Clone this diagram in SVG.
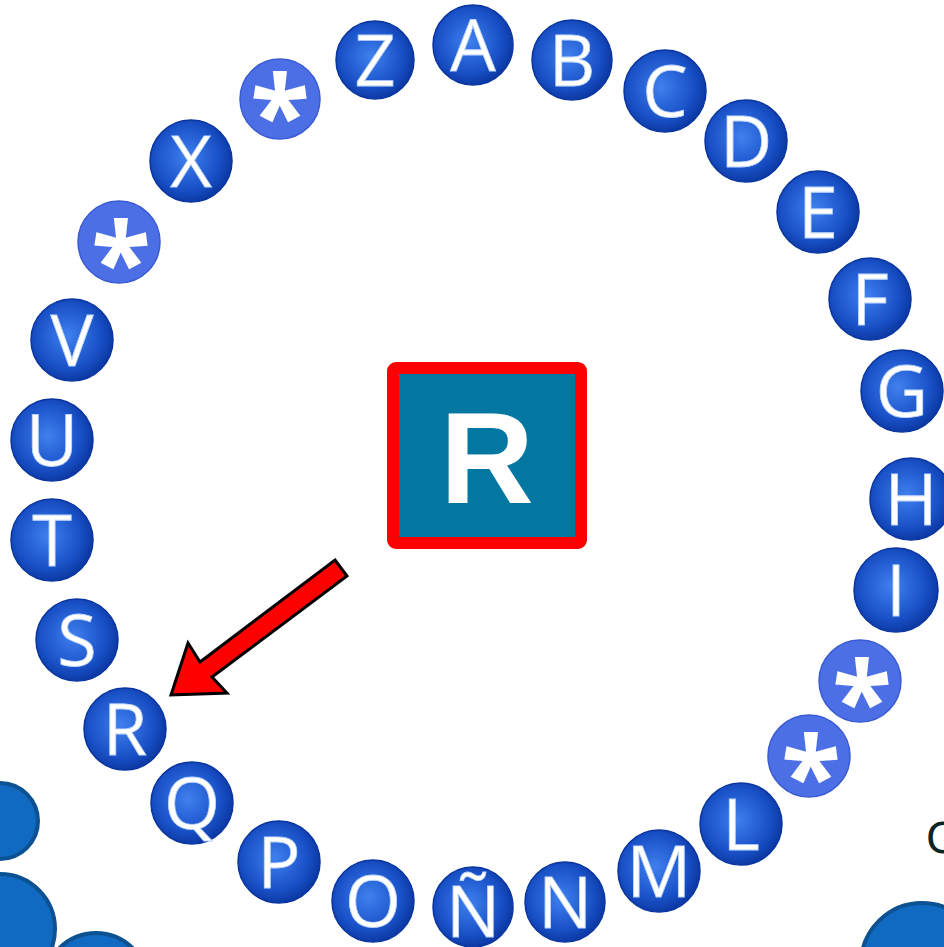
<svg xmlns="http://www.w3.org/2000/svg" width="944" height="947" viewBox="0 0 944 947">
<defs>
<radialGradient id="ball" cx="0.45" cy="0.45" r="0.55">
<stop offset="0" stop-color="#3f80ee"/>
<stop offset="0.7" stop-color="#1a52c8"/>
<stop offset="1" stop-color="#0c3aa6"/>
</radialGradient>
</defs>
<style>
.b{fill:url(#ball);stroke:#0a35a0;stroke-width:1.5}
.s{fill:#4c6fe6;stroke:#3a5bd2;stroke-width:1.5}
.t{font-family:"Open Sans","Liberation Sans",sans-serif;font-size:72px;fill:#ffffff;stroke:#b9d3ff;stroke-width:0.8;text-anchor:middle}
.a{font-family:"Open Sans","Liberation Sans",sans-serif;font-size:110px;font-weight:bold;fill:#ffffff;text-anchor:middle}
.deco{fill:#106ac2;stroke:#0c5293;stroke-width:4}
</style>
<rect width="944" height="947" fill="#ffffff"/>
<g id="decor">
<circle class="deco" cx="0" cy="821" r="38"/>
<circle class="deco" cx="0" cy="929" r="55"/>
<circle class="deco" cx="96" cy="985" r="52"/>
<circle class="deco" cx="922" cy="964" r="61"/>
<text x="926" y="853" font-family="DejaVu Sans, sans-serif" font-size="42" fill="#0b2424">C</text>
</g>
<g id="n-A"><circle class="b" cx="473" cy="45" r="40"/><text class="t" x="473" y="71">A</text></g>
<g id="n-B"><circle class="b" cx="572" cy="60" r="40"/><text class="t" x="572" y="86">B</text></g>
<g id="n-C"><circle class="b" cx="665" cy="91" r="41"/><text class="t" x="665" y="117">C</text></g>
<g id="n-D"><circle class="b" cx="746" cy="141" r="41"/><text class="t" x="746" y="167">D</text></g>
<g id="n-E"><circle class="b" cx="818" cy="212" r="41"/><text class="t" x="818" y="238">E</text></g>
<g id="n-F"><circle class="b" cx="870" cy="299" r="41"/><text class="t" x="870" y="325">F</text></g>
<g id="n-G"><circle class="b" cx="902" cy="391" r="41"/><text class="t" x="902" y="417">G</text></g>
<g id="n-H"><circle class="b" cx="911" cy="499" r="41"/><text class="t" x="911" y="525">H</text></g>
<g id="n-I"><circle class="b" cx="896" cy="590" r="42"/><text class="t" x="896" y="616">I</text></g>
<g id="n-star1"><circle class="s" cx="860" cy="681" r="41"/><text class="a" x="862" y="740">*</text></g>
<g id="n-star2"><circle class="s" cx="809" cy="756" r="41"/><text class="a" x="811" y="815">*</text></g>
<g id="n-L"><circle class="b" cx="741" cy="824" r="41"/><text class="t" x="741" y="850">L</text></g>
<g id="n-M"><circle class="b" cx="659" cy="871" r="41"/><text class="t" x="659" y="897">M</text></g>
<g id="n-N"><circle class="b" cx="565" cy="902" r="40"/><text class="t" x="565" y="928">N</text></g>
<g id="n-Ntilde"><circle class="b" cx="473" cy="907" r="40"/><text class="t" x="473" y="937">Ñ</text></g>
<g id="n-O"><circle class="b" cx="373" cy="901" r="41"/><text class="t" x="373" y="927">O</text></g>
<g id="n-P"><circle class="b" cx="279" cy="862" r="41"/><text class="t" x="279" y="888">P</text></g>
<g id="n-Q"><circle class="b" cx="192" cy="803" r="41"/><text class="t" x="192" y="829">Q</text></g>
<g id="n-R"><circle class="b" cx="125" cy="729" r="41"/><text class="t" x="125" y="755">R</text></g>
<g id="n-S"><circle class="b" cx="77" cy="640" r="41"/><text class="t" x="77" y="666">S</text></g>
<g id="n-T"><circle class="b" cx="52" cy="540" r="41"/><text class="t" x="52" y="566">T</text></g>
<g id="n-U"><circle class="b" cx="52" cy="440" r="41"/><text class="t" x="52" y="466">U</text></g>
<g id="n-V"><circle class="b" cx="72" cy="340" r="41"/><text class="t" x="72" y="366">V</text></g>
<g id="n-star3"><circle class="s" cx="119" cy="242" r="41"/><text class="a" x="121" y="301">*</text></g>
<g id="n-X"><circle class="b" cx="191" cy="161" r="41"/><text class="t" x="191" y="187">X</text></g>
<g id="n-star4"><circle class="s" cx="280" cy="99" r="40"/><text class="a" x="280" y="154">*</text></g>
<g id="n-Z"><circle class="b" cx="375" cy="60" r="39"/><text class="t" x="375" y="86">Z</text></g>
<g id="n-center">
<rect x="393" y="368" width="188" height="175" rx="3" fill="#0277a2" stroke="#ff0000" stroke-width="12"/>
<text x="487" y="503" font-family="Liberation Sans, Arial, sans-serif" font-size="130" font-weight="bold" fill="#ffffff" text-anchor="middle">R</text>
</g>
<g id="connectors">
<polygon points="335,560 347,576 212,677 227,693 171,695 188,643 200,662" fill="#ff0000" stroke="#000000" stroke-width="3" stroke-linejoin="miter"/>
</g>
</svg>
